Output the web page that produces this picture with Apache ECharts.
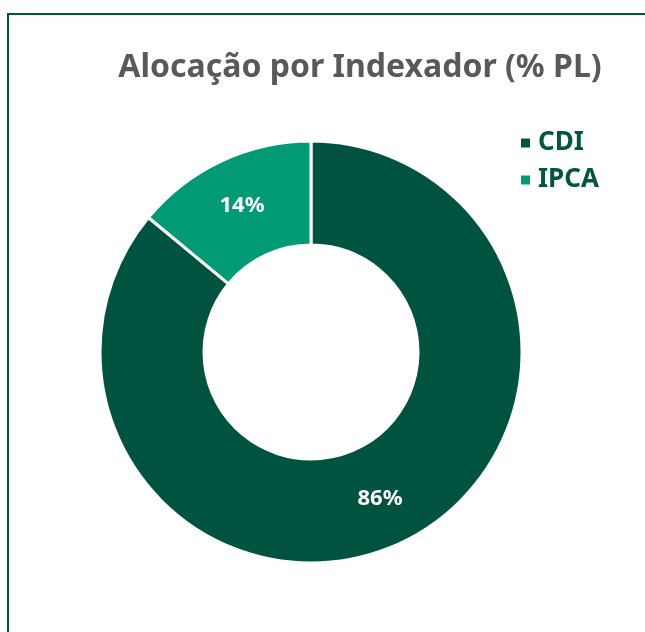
<!DOCTYPE html>
<html><head><meta charset="utf-8">
<script src="https://cdn.jsdelivr.net/npm/echarts@6/dist/echarts.min.js"></script>
<style>html,body{margin:0;padding:0;background:#fff}#c{width:645px;height:632px}</style>
</head><body><div id="c"></div>
<script>
const categories = ['CDI', 'IPCA'];
const values = [86, 14];
const colors = ['#00543F', '#009B74'];
const titleText = 'Alocação por Indexador (% PL)';

const chart = echarts.init(document.getElementById('c'), null, {renderer: 'canvas'});
chart.setOption({
  animation: false,
  backgroundColor: '#fff',
  graphic: [{
    type: 'rect', silent: true, z: -1,
    shape: {x: 8, y: 14, width: 700, height: 700},
    style: {fill: 'none', stroke: '#00563F', lineWidth: 2}
  }],
  title: {
    text: titleText, left: 355, top: 47, textAlign: 'center',
    textStyle: {fontFamily: 'Noto Sans', fontWeight: 'bold', fontSize: 32, color: '#595959'}
  },
  legend: {
    orient: 'vertical', left: 514, top: 125, icon: 'rect', itemWidth: 11, itemHeight: 11,
    itemGap: 11, data: categories,
    textStyle: {fontFamily: 'Noto Sans', fontWeight: 'bold', fontSize: 26, color: '#00563F', padding: [0, 0, 0, 2]}
  },
  series: [{
    type: 'pie', center: [311, 352], radius: [107, 211], startAngle: 90, clockwise: true,
    data: categories.map((n, i) => ({name: n, value: values[i], itemStyle: {color: colors[i]}})),
    itemStyle: {borderColor: '#fff', borderWidth: 3},
    label: {show: true, position: 'inside', formatter: '{d}%', color: '#fff',
      fontFamily: 'Noto Sans', fontWeight: 'bold', fontSize: 22},
    labelLine: {show: false},
    emphasis: {disabled: true}
  }]
});
</script></body></html>
